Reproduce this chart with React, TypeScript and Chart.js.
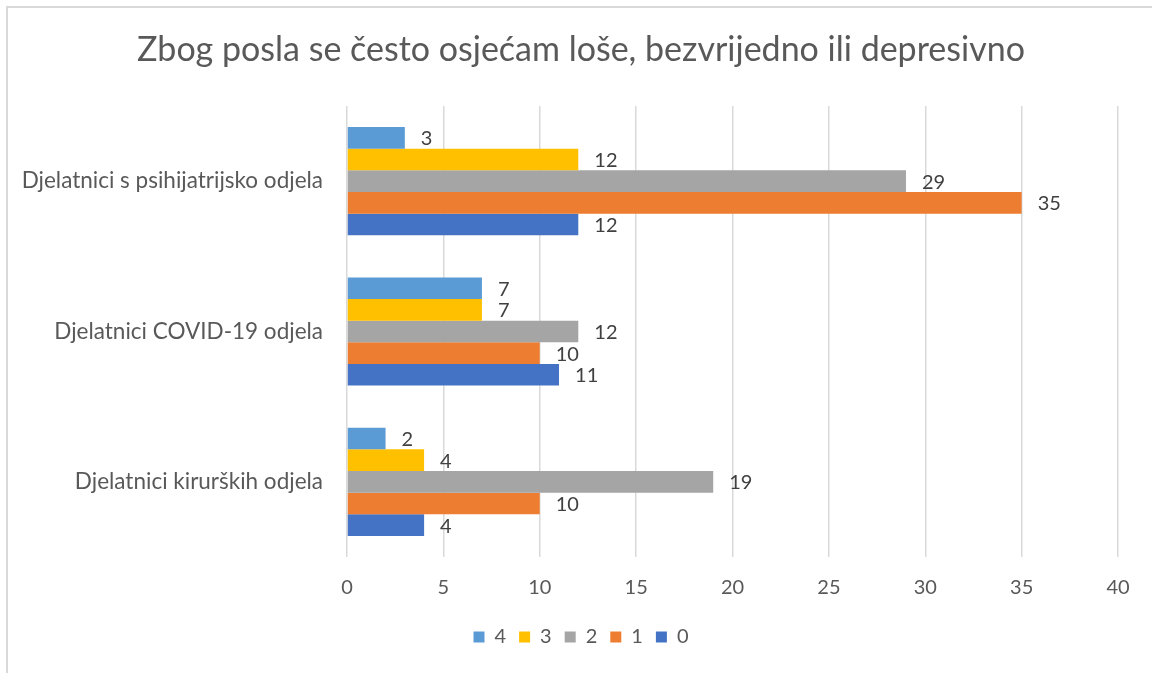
import React, { useEffect, useRef } from "react";
import { Chart, registerables } from "chart.js";

Chart.register(...registerables);

const categories = [
  "Djelatnici s psihijatrijsko odjela",
  "Djelatnici COVID-19 odjela",
  "Djelatnici kirurških odjela",
];
const seriesNames = ["4", "3", "2", "1", "0"];
const values4 = [3, 7, 2];
const values3 = [12, 7, 4];
const values2 = [29, 12, 19];
const values1 = [35, 10, 10];
const values0 = [12, 11, 4];
const seriesColors = ["#5B9BD5", "#FFC000", "#A5A5A5", "#ED7D31", "#4472C4"];
const xTicks = [0, 5, 10, 15, 20, 25, 30, 35, 40];
const titleText = "Zbog posla se često osjećam loše, bezvrijedno ili depresivno";

const FONT = "Lato, 'Open Sans', sans-serif";

const valueLabels = {
  id: "valueLabels",
  afterDatasetsDraw(chart: any) {
    const ctx = chart.ctx;
    ctx.save();
    ctx.font = `20px ${FONT}`;
    ctx.fillStyle = "#404040";
    ctx.textAlign = "left";
    ctx.textBaseline = "middle";
    chart.data.datasets.forEach((ds: any, i: number) => {
      const meta = chart.getDatasetMeta(i);
      meta.data.forEach((bar: any, j: number) => {
        ctx.fillText(String(ds.data[j]), bar.x + 16, bar.y + 1);
      });
    });
    ctx.restore();
  },
};

const titlePlugin = {
  id: "customTitle",
  afterDraw(chart: any) {
    const ctx = chart.ctx;
    ctx.save();
    ctx.font = `34px ${FONT}`;
    ctx.fillStyle = "#595959";
    ctx.textAlign = "center";
    ctx.textBaseline = "middle";
    ctx.fillText(titleText, 581, 50);
    ctx.restore();
  },
};

export default function App() {
  const ref = useRef<HTMLCanvasElement>(null);
  useEffect(() => {
    document.body.style.margin = "0";
    const allValues = [values4, values3, values2, values1, values0];
    const chart = new Chart(ref.current!, {
      type: "bar",
      data: {
        labels: categories,
        datasets: seriesNames.map((n, i) => ({
          label: n,
          data: allValues[i],
          backgroundColor: seriesColors[i],
          borderWidth: 0,
          categoryPercentage: 0.72,
          barPercentage: 1,
        })),
      },
      options: {
        indexAxis: "y",
        animation: false,
        responsive: false,
        maintainAspectRatio: false,
        layout: { padding: { left: 10, right: 0, top: 106, bottom: 16 } },
        scales: {
          x: {
            min: 0,
            max: 40,
            afterBuildTicks: (s: any) => {
              s.ticks = xTicks.map((v) => ({ value: v }));
            },
            afterFit: (s: any) => {
              s.height = 57;
              s.paddingRight = 34;
            },
            grid: { color: "#d9d9d9", lineWidth: 1.5, drawTicks: false },
            border: { display: false },
            ticks: { font: { size: 20, family: FONT }, color: "#595959", padding: 19 },
          },
          y: {
            afterFit: (s: any) => {
              s.width = 337;
            },
            grid: { display: false, drawTicks: false },
            border: { display: false },
            ticks: { font: { size: 22.5, family: FONT }, color: "#595959", padding: 24 },
          },
        },
        plugins: {
          title: { display: false },
          legend: {
            position: "bottom",
            labels: {
              font: { size: 20, family: FONT },
              color: "#595959",
              boxWidth: 11,
              boxHeight: 11,
              padding: 13,
            },
          },
          tooltip: { enabled: false },
        },
      },
      plugins: [valueLabels, titlePlugin],
    } as any);
    return () => chart.destroy();
  }, []);
  return (
    <div style={{ position: "relative", width: 1152, height: 673, overflow: "hidden", background: "#fff" }}>
      <div
        style={{
          position: "absolute",
          left: 6,
          top: 6,
          width: 1200,
          height: 700,
          borderLeft: "2px solid #d9d9d9",
          borderTop: "2px solid #d9d9d9",
        }}
      />
      <canvas ref={ref} width={1152} height={673} style={{ position: "absolute", left: 0, top: 0 }} />
    </div>
  );
}
